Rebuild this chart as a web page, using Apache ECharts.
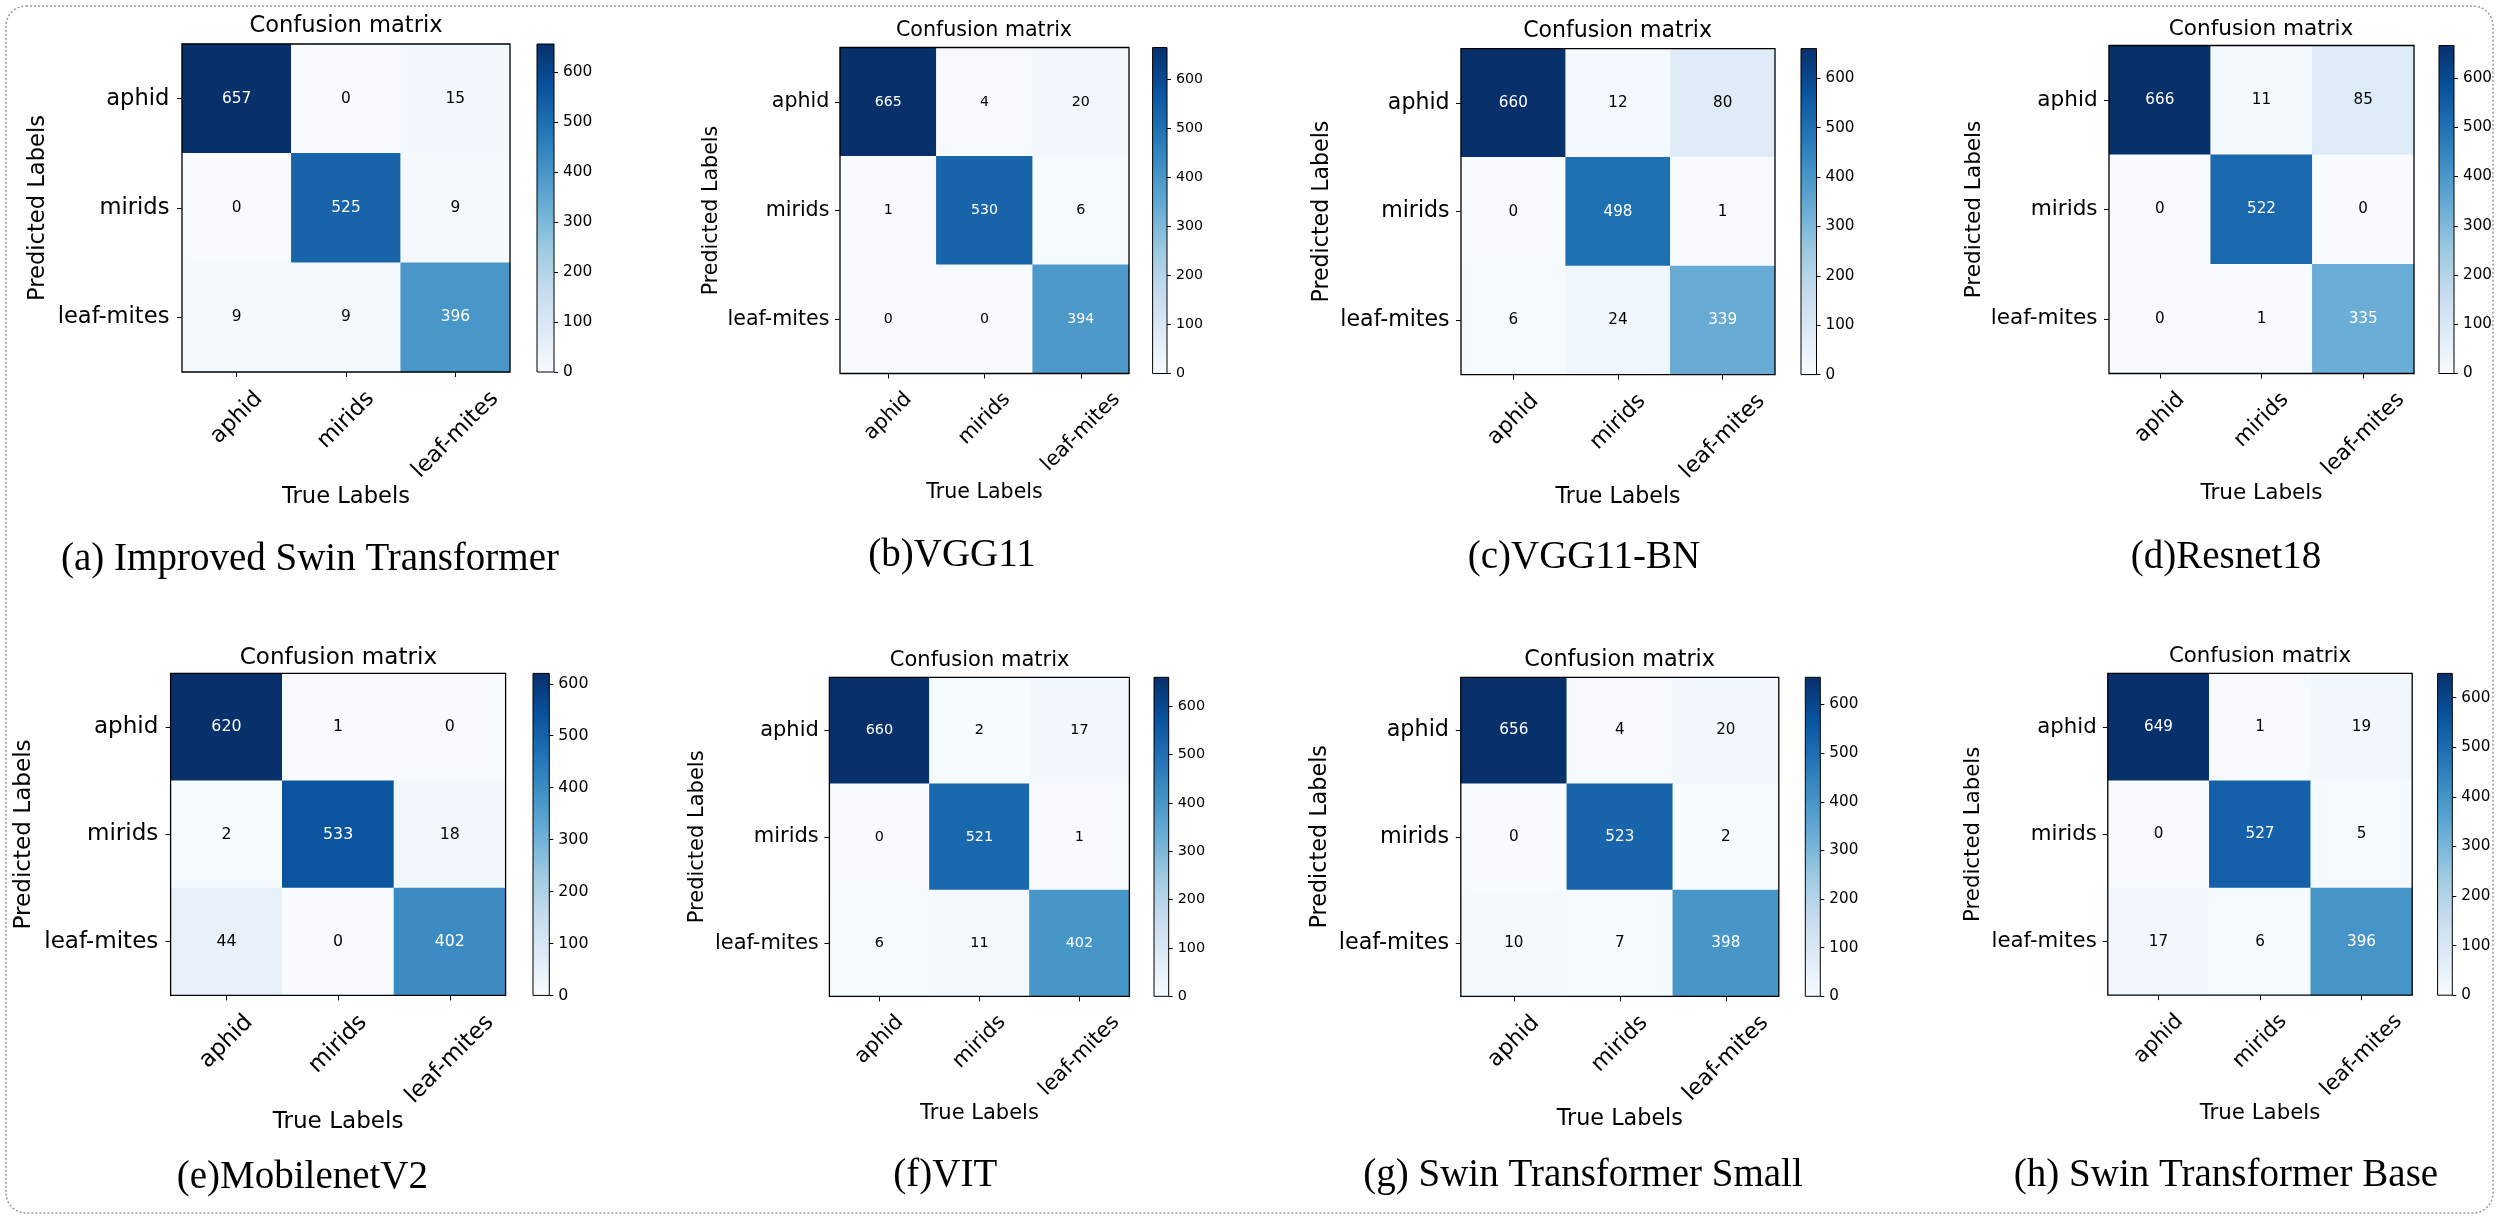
<!DOCTYPE html>
<html><head><meta charset="utf-8">
<script src="https://cdn.jsdelivr.net/npm/echarts@6/dist/echarts.min.js"></script>
<style>html,body{margin:0;padding:0;background:#fff}#c{width:2500px;height:1220px}</style>
</head><body><div id="c"></div>
<script>
// ---- data ----
const classes = ['aphid', 'mirids', 'leaf-mites'];
const captions = ['(a) Improved Swin Transformer', '(b)VGG11', '(c)VGG11-BN', '(d)Resnet18',
                  '(e)MobilenetV2', '(f)VIT', '(g) Swin Transformer Small', '(h) Swin Transformer Base'];
const plotTitle = 'Confusion matrix';
const xName = 'True Labels';
const yName = 'Predicted Labels';
const cbTicks = [0, 100, 200, 300, 400, 500, 600];
// rows = predicted label, columns = true label
const matA = [[657, 0, 15], [0, 525, 9], [9, 9, 396]];
const matB = [[665, 4, 20], [1, 530, 6], [0, 0, 394]];
const matC = [[660, 12, 80], [0, 498, 1], [6, 24, 339]];
const matD = [[666, 11, 85], [0, 522, 0], [0, 1, 335]];
const matE = [[620, 1, 0], [2, 533, 18], [44, 0, 402]];
const matF = [[660, 2, 17], [0, 521, 1], [6, 11, 402]];
const matG = [[656, 4, 20], [0, 523, 2], [10, 7, 398]];
const matH = [[649, 1, 19], [0, 527, 5], [17, 6, 396]];
const matrices = [matA, matB, matC, matD, matE, matF, matG, matH];

// ---- styling / layout ----
const blues = ['#f7fbff', '#deebf7', '#c6dbef', '#9ecae1', '#6baed6', '#4292c6', '#2171b5', '#08519c', '#08306b'];
const layout = [
  {gx:182,   gy:44,    gw:328,   gh:328,   cbx:537,    cbw:17,   big:22.6, small:15.4, tx:346,    ty:26.5,  cx:310,    cy:560,  pname:142, tname:120,   ygap:12.6},
  {gx:840,   gy:47.5,  gw:289,   gh:326,   cbx:1152.6, cbw:14.4, big:20.6, small:14.2, tx:984,    ty:31,    cx:952,    cy:556,  pname:126, tname:118.5, ygap:10.6},
  {gx:1461,  gy:48.6,  gw:314,   gh:326,   cbx:1801,   cbw:15.5, big:22.1, small:15.2, tx:1617.6, ty:31,    cx:1584,   cy:558,  pname:137, tname:117.7, ygap:11.4},
  {gx:2109,  gy:45.5,  gw:305,   gh:328,   cbx:2439,   cbw:15,   big:21.6, small:15.2, tx:2261,   ty:29,    cx:2226,   cy:558,  pname:132, tname:118.5, ygap:11.4},
  {gx:170.6, gy:673.4, gw:335,   gh:322,   cbx:533,    cbw:16.3, big:23.1, small:15.8, tx:338.4,  ty:657.5, cx:302.4,  cy:1178, pname:145, tname:117,   ygap:12.2},
  {gx:829.4, gy:677.3, gw:300,   gh:319,   cbx:1154,   cbw:14.7, big:21,   small:14.4, tx:979.6,  ty:660.6, cx:945.3,  cy:1176, pname:130, tname:115.6, ygap:10.6},
  {gx:1460.8,gy:677.3, gw:318,   gh:319,   cbx:1805.3, cbw:15,   big:22.3, small:15.2, tx:1619.6, ty:660.6, cx:1583,   cy:1176, pname:139, tname:115.6, ygap:11.8},
  {gx:2107.8,gy:673.4, gw:304.4, gh:321.8, cbx:2437.6, cbw:14.7, big:21.3, small:15.2, tx:2260,   ty:656.7, cx:2226,   cy:1176, pname:132, tname:116.8, ygap:11}
];
const FONT = '"DejaVu Sans", sans-serif';
const SERIF = '"Liberation Serif", "Times New Roman", serif';

const ctx2d = document.createElement('canvas').getContext('2d');
function textWidth(t, s) { ctx2d.font = s + 'px "DejaVu Sans"'; return ctx2d.measureText(t).width; }

const grid = [], xAxis = [], yAxis = [], series = [], visualMap = [], title = [];

layout.forEach((L, p) => {
  const m = matrices[p];
  const vmax = Math.max(...m.flat());
  const gi = grid.length;
  grid.push({left: L.gx, top: L.gy, width: L.gw, height: L.gh, show: true, borderColor: '#000', borderWidth: 1.3,
             backgroundColor: 'transparent', z: 10, containLabel: false, outerBoundsMode: 'none'});
  grid.push({left: L.cbx, top: L.gy, width: L.cbw, height: L.gh, show: true, borderColor: '#000', borderWidth: 1,
             backgroundColor: 'transparent', z: 10, containLabel: false, outerBoundsMode: 'none'});

  const rich = {};
  classes.forEach((c, k) => {
    const w = textWidth(c, L.big);
    rich['k' + k] = {fontSize: L.big, fontFamily: FONT, color: '#000', padding: [w * 0.5, w * 0.5, 0, 0]};
  });
  const nameStyle = {fontSize: L.big, fontFamily: FONT, color: '#000'};

  const xi = xAxis.length;
  xAxis.push({type: 'category', gridIndex: gi, data: classes, position: 'bottom',
    axisLine: {show: false},
    axisTick: {show: true, alignWithLabel: true, length: 5, lineStyle: {color: '#000', width: 1}},
    axisLabel: {interval: 0, rotate: 45, align: 'center', verticalAlign: 'middle',
                margin: 14 + 0.354 * L.big * 1.17,
                formatter: (v, idx) => '{k' + idx + '|' + v + '}', rich: rich},
    splitLine: {show: false},
    name: xName, nameLocation: 'middle', nameGap: L.tname - L.big / 2, nameTextStyle: nameStyle});
  xAxis.push({type: 'category', gridIndex: gi + 1, data: ['cb'], show: false});

  const yi = yAxis.length;
  yAxis.push({type: 'category', gridIndex: gi, data: classes, inverse: true,
    axisLine: {show: false},
    axisTick: {show: true, alignWithLabel: true, length: 5, lineStyle: {color: '#000', width: 1}},
    axisLabel: {interval: 0, margin: L.ygap, fontSize: L.big, fontFamily: FONT, color: '#000'},
    splitLine: {show: false},
    name: yName, nameLocation: 'middle', nameGap: L.pname - L.big / 2 + 2, nameTextStyle: nameStyle});
  yAxis.push({type: 'value', gridIndex: gi + 1, min: 0, max: vmax, position: 'right',
    axisLine: {show: false},
    axisTick: {show: true, length: 4, lineStyle: {color: '#000', width: 1}, customValues: cbTicks},
    axisLabel: {customValues: cbTicks, margin: 9, fontSize: L.small, fontFamily: FONT, color: '#000'},
    splitLine: {show: false}});

  const hi = series.length;
  series.push({type: 'heatmap', xAxisIndex: xi, yAxisIndex: yi,
    data: m.flatMap((row, i) => row.map((v, j) => ({value: [j, i, v], label: {color: v > vmax / 2 ? '#fff' : '#000'}}))),
    label: {show: true, fontSize: L.small, fontFamily: FONT},
    itemStyle: {borderWidth: 0}, emphasis: {disabled: true}, silent: true});
  visualMap.push({type: 'continuous', show: false, seriesIndex: hi, dimension: 2, min: 0, max: vmax,
    inRange: {color: blues}});
  series.push({type: 'bar', xAxisIndex: xi + 1, yAxisIndex: yi + 1, data: [vmax], barWidth: '100%',
    itemStyle: {color: new echarts.graphic.LinearGradient(0, 1, 0, 0,
      blues.map((c, k) => ({offset: k / (blues.length - 1), color: c})))},
    silent: true});

  title.push({text: plotTitle, left: L.tx, top: L.ty, textAlign: 'center', textVerticalAlign: 'middle', padding: 0,
    textStyle: {fontSize: L.big, fontWeight: 'normal', fontFamily: FONT, color: '#000'}});
  title.push({text: captions[p], left: L.cx, top: L.cy, textAlign: 'center', textVerticalAlign: 'middle', padding: 0,
    textStyle: {fontSize: 39, fontWeight: 'normal', fontFamily: SERIF, color: '#000'}});
});

const chart = echarts.init(document.getElementById('c'), null, {renderer: 'canvas', width: 2500, height: 1220});
chart.setOption({
  animation: false,
  backgroundColor: '#fff',
  title: title,
  grid: grid,
  xAxis: xAxis,
  yAxis: yAxis,
  visualMap: visualMap,
  series: series,
  graphic: [{type: 'rect', silent: true, z: -1,
    shape: {x: 6, y: 6, width: 2487, height: 1207, r: 20},
    style: {fill: 'none', stroke: '#9a9a9a', lineWidth: 1.5, lineDash: [2, 2]}}]
});
</script>
</body></html>
